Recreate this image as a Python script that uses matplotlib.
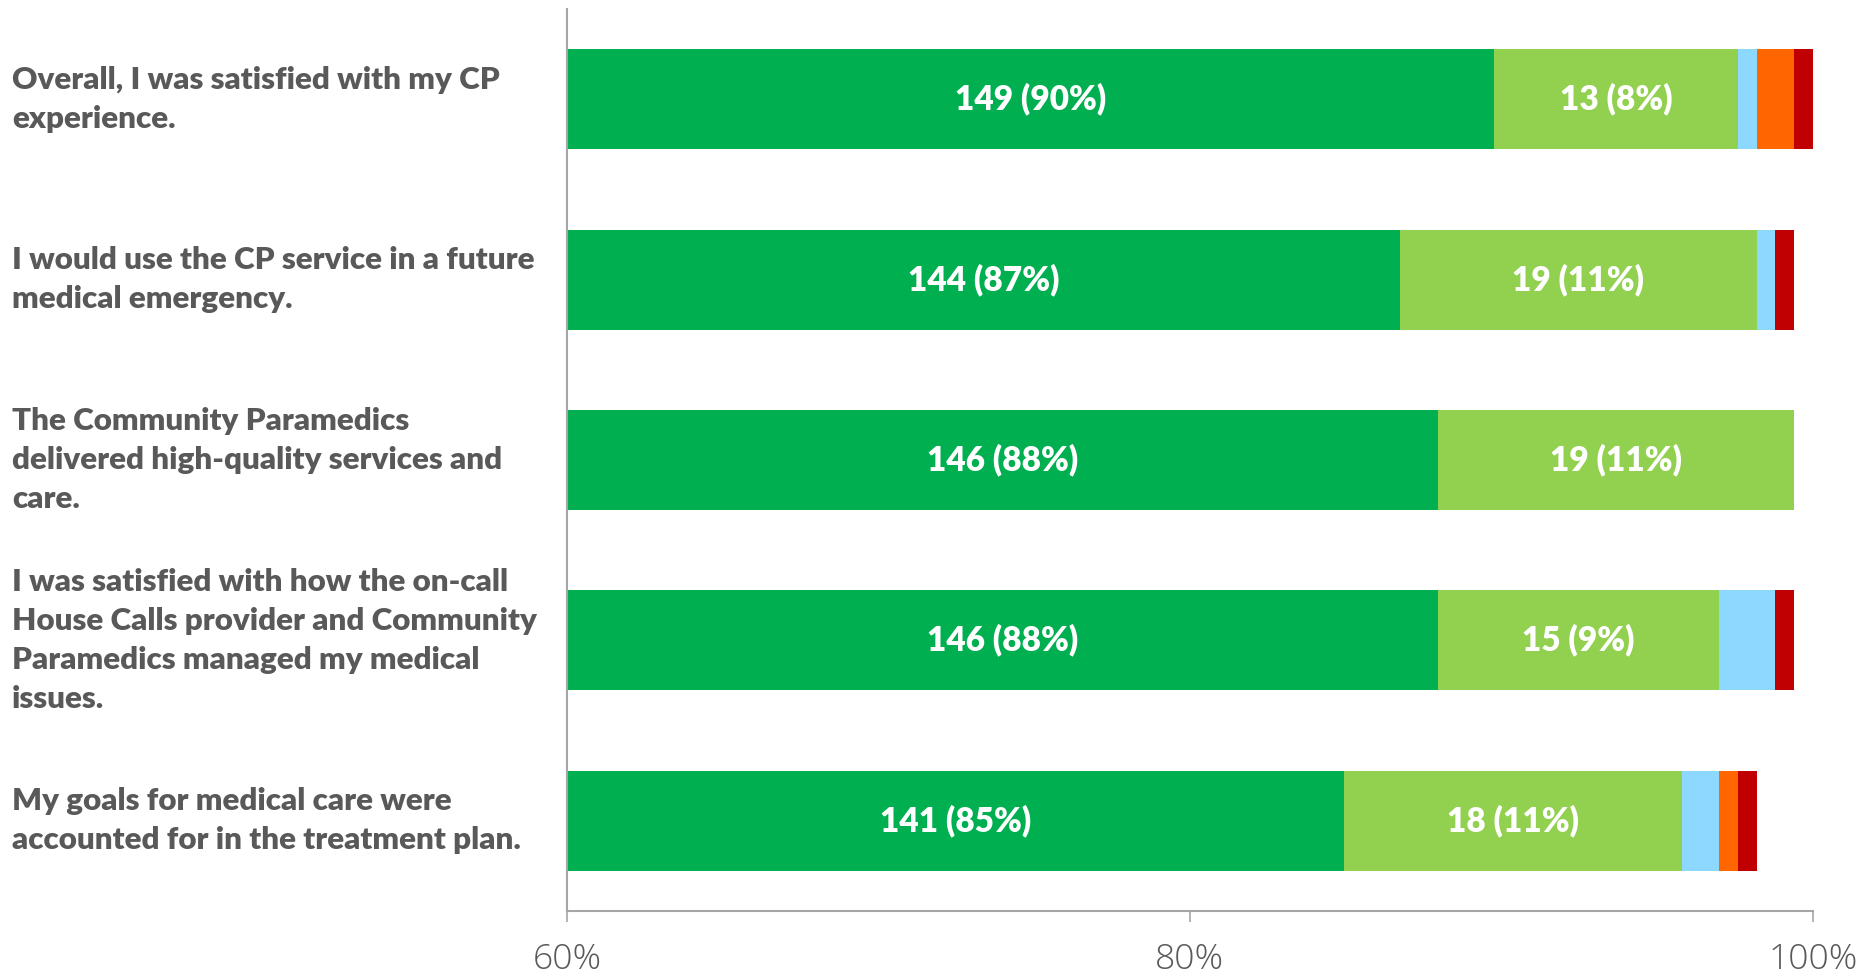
import numpy as np
import matplotlib.pyplot as plt
from matplotlib.transforms import blended_transform_factory

# Survey responses (counts), n = 166 respondents
n_total = 166
questions = [
    "Overall, I was satisfied with my CP\nexperience.",
    "I would use the CP service in a future\nmedical emergency.",
    "The Community Paramedics\ndelivered high-quality services and\ncare.",
    "I was satisfied with how the on-call\nHouse Calls provider and Community\nParamedics managed my medical\nissues.",
    "My goals for medical care were\naccounted for in the treatment plan.",
]
strongly_agree = [149, 144, 146, 146, 141]
agree = [13, 19, 19, 15, 18]
neutral = [1, 1, 0, 3, 2]
disagree = [2, 0, 0, 0, 1]
strongly_disagree = [1, 1, 0, 1, 1]

series = [strongly_agree, agree, neutral, disagree, strongly_disagree]
colors = ["#00B050", "#92D050", "#8DD8FF", "#FF6600", "#C00000"]
labelled = [True, True, False, False, False]

xmin, xmax = 0.6, 1.0
font = ["Lato", "DejaVu Sans"]
gray = "#595959"

fig = plt.figure(figsize=(18.6, 9.74), dpi=100)
ax = fig.add_axes([0.3048, 0.0647, 0.6699, 0.9261])

y = np.arange(len(questions))
left = np.zeros(len(questions))
for vals, col, lab in zip(series, colors, labelled):
    frac = np.array(vals) / n_total
    ax.barh(y, frac, left=left, height=0.555, color=col, edgecolor="none")
    if lab:
        # label centred on the visible part of the segment
        for i, (v, f, l) in enumerate(zip(vals, frac, left)):
            a = max(l, xmin)
            b = min(l + f, xmax)
            ax.text((a + b) / 2, y[i], f"{v} ({f*100:.0f}%)", ha="center", va="center",
                    color="white", fontsize=24, fontweight="heavy", family=font)
    left = left + frac

ax.set_xlim(xmin, xmax)
ax.set_ylim(len(questions) - 0.5, -0.5)
ax.set_xticks([0.6, 0.8, 1.0])
ax.set_xticklabels(["60%", "80%", "100%"], fontsize=25.5, color=gray,
                   family=["Open Sans", "DejaVu Sans"], fontweight="light")
ax.set_yticks([])
ax.tick_params(axis="x", length=8, width=1.2, color="#A6A6A6", pad=15)
for s in ["top", "right"]:
    ax.spines[s].set_visible(False)
for s in ["left", "bottom"]:
    ax.spines[s].set_color("#A6A6A6")
    ax.spines[s].set_linewidth(1.5)

trans = blended_transform_factory(fig.transFigure, ax.transData)
for i, q in enumerate(questions):
    ax.text(12 / 1860, y[i], q, transform=trans, ha="left", va="center",
            fontsize=22.6, fontweight="heavy", color=gray, family=font,
            linespacing=1.47)

fig.savefig("out.png", dpi=100)
